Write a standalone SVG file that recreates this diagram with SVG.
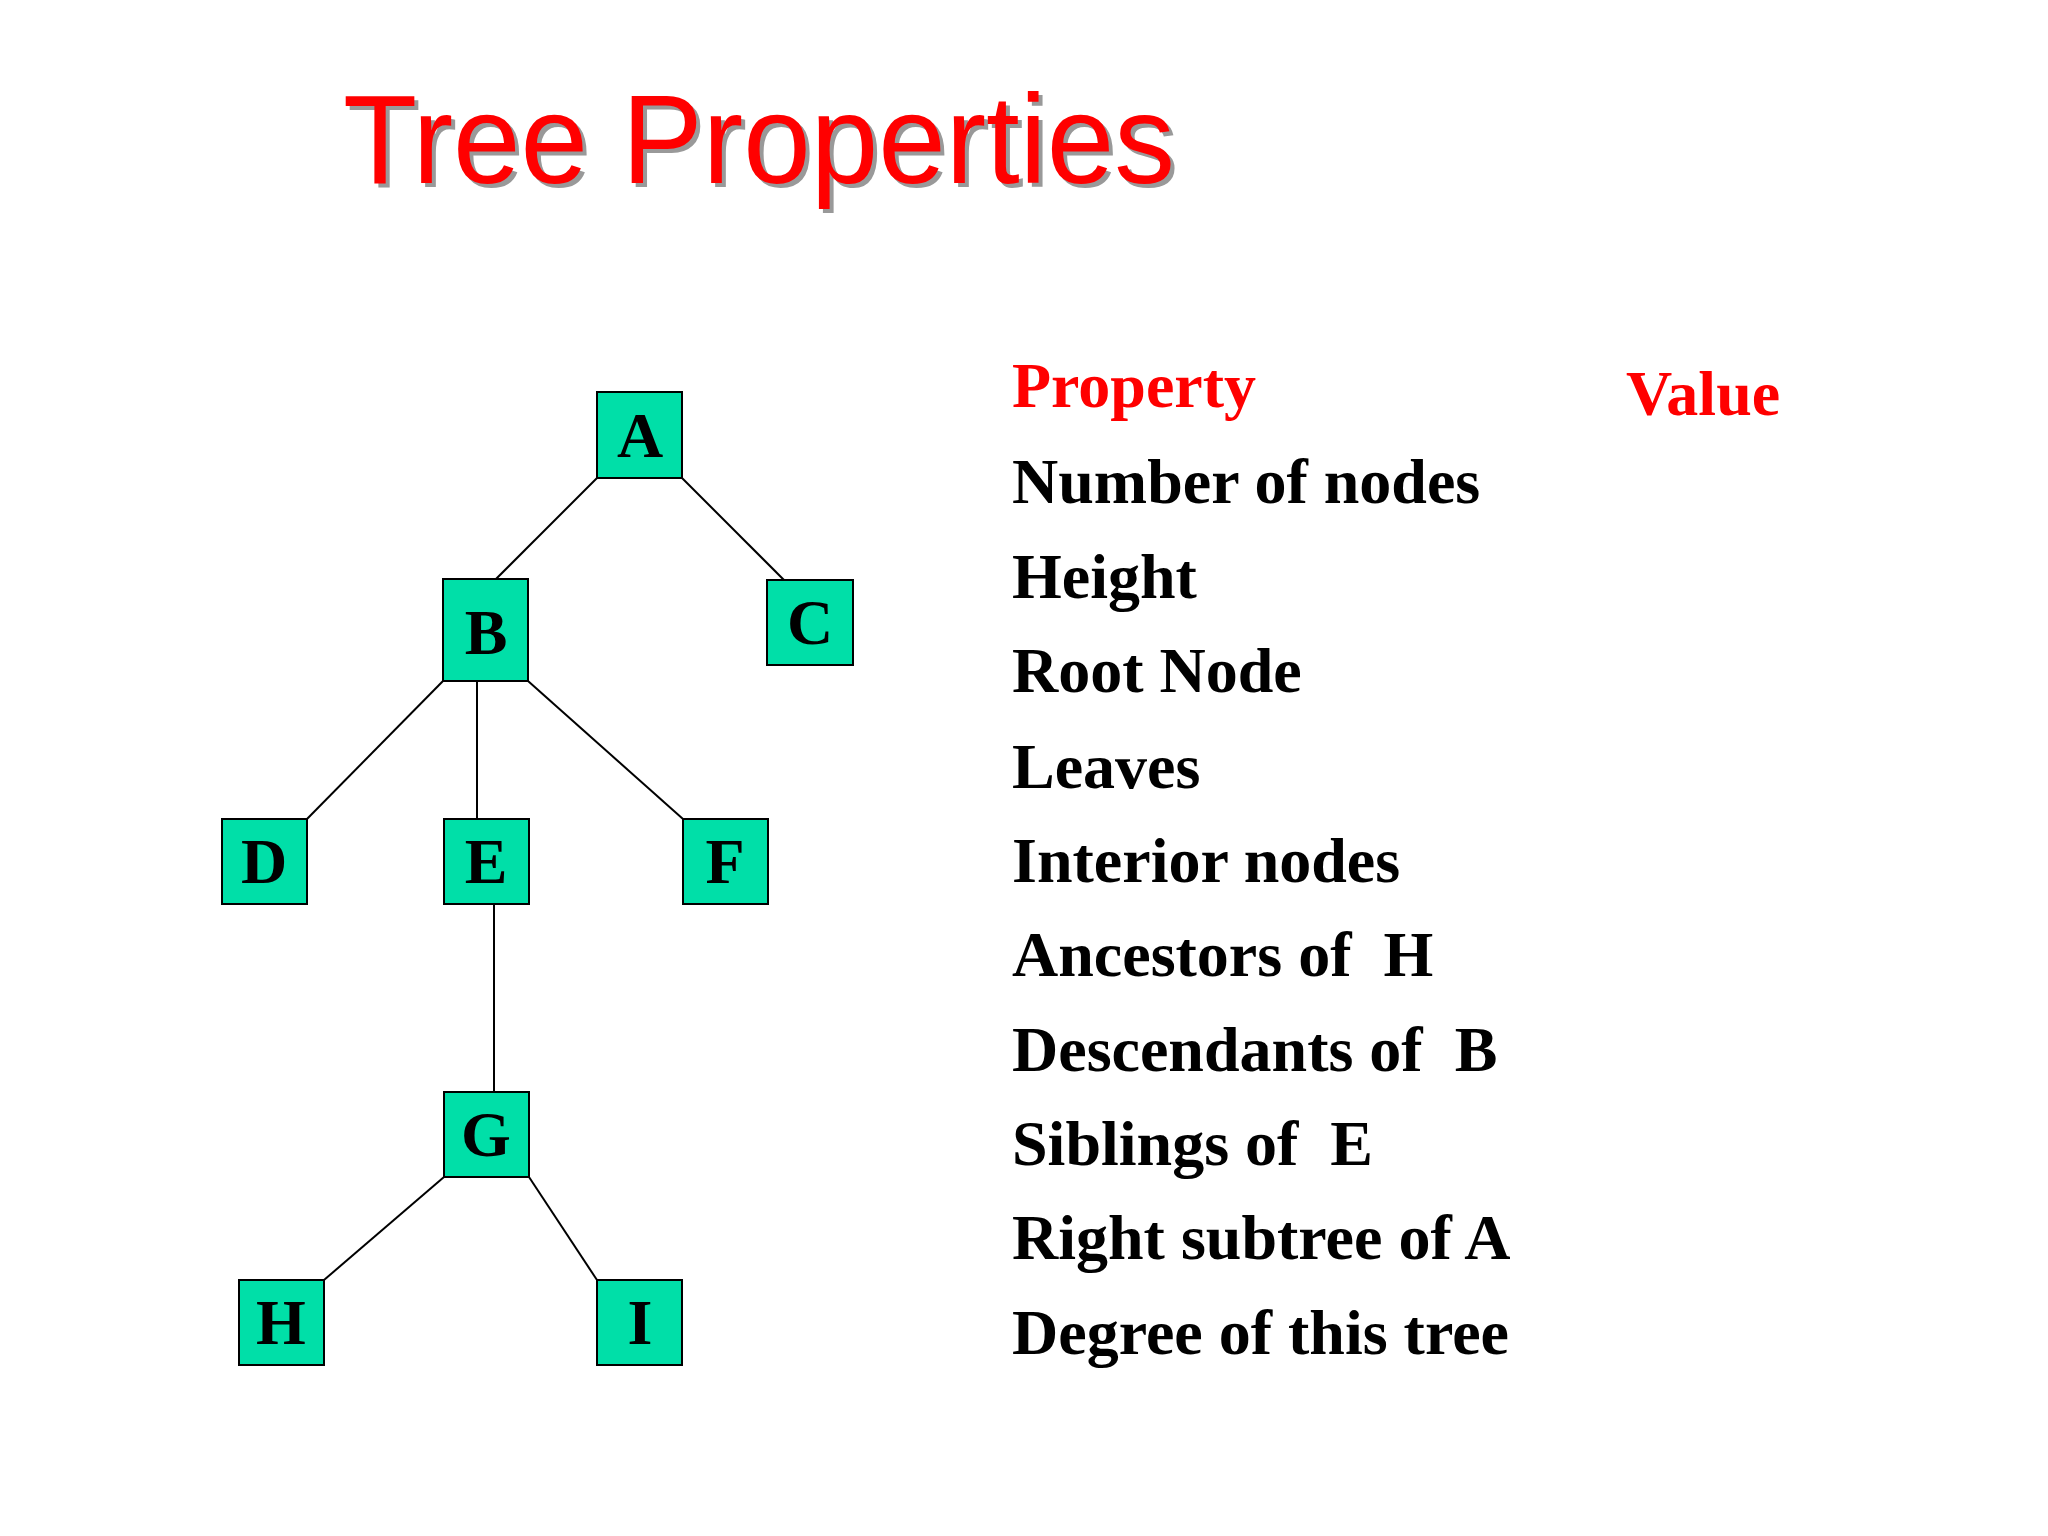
<svg xmlns="http://www.w3.org/2000/svg" width="2048" height="1536" viewBox="0 0 2048 1536">
<style>
.n rect{fill:#00dfa8;stroke:#000;stroke-width:2}
.n text{font-family:"Liberation Serif",serif;font-weight:bold;font-size:64px;text-anchor:middle;fill:#000}
.t{font-family:"Liberation Serif",serif;font-weight:bold;font-size:64px;fill:#000}
.r{fill:#ff0000}
#edges line{stroke:#000;stroke-width:2}
</style>
<rect width="2048" height="1536" fill="#fff"/>
<text x="347" y="187" font-family="Liberation Sans,sans-serif" font-size="126" fill="#999" textLength="832" lengthAdjust="spacingAndGlyphs">Tree Properties</text>
<text x="343" y="183" font-family="Liberation Sans,sans-serif" font-size="126" fill="#ff0000" textLength="832" lengthAdjust="spacingAndGlyphs">Tree Properties</text>
<g id="edges">
<line x1="597" y1="478" x2="496" y2="579"/>
<line x1="682" y1="478" x2="784" y2="580"/>
<line x1="443" y1="681" x2="307" y2="819"/>
<line x1="477" y1="681" x2="477" y2="819"/>
<line x1="528" y1="681" x2="683" y2="819"/>
<line x1="494" y1="904" x2="494" y2="1092"/>
<line x1="444" y1="1177" x2="324" y2="1280"/>
<line x1="529" y1="1177" x2="597" y2="1280"/>
</g>
<g id="A" class="n"><rect x="597" y="392" width="85" height="86"/><text x="640" y="457">A</text></g>
<g id="B" class="n"><rect x="443" y="579" width="85" height="102"/><text x="486" y="654">B</text></g>
<g id="C" class="n"><rect x="767" y="580" width="86" height="85"/><text x="810" y="644">C</text></g>
<g id="D" class="n"><rect x="222" y="819" width="85" height="85"/><text x="264" y="883">D</text></g>
<g id="E" class="n"><rect x="444" y="819" width="85" height="85"/><text x="486" y="883">E</text></g>
<g id="F" class="n"><rect x="683" y="819" width="85" height="85"/><text x="725" y="883">F</text></g>
<g id="G" class="n"><rect x="444" y="1092" width="85" height="85"/><text x="486" y="1156">G</text></g>
<g id="H" class="n"><rect x="239" y="1280" width="85" height="85"/><text x="281" y="1344">H</text></g>
<g id="I" class="n"><rect x="597" y="1280" width="85" height="85"/><text x="640" y="1344">I</text></g>
<text class="t r" x="1012" y="407">Property</text>
<text class="t r" x="1626" y="415">Value</text>
<text class="t" x="1012" y="503">Number of nodes</text>
<text class="t" x="1012" y="598">Height</text>
<text class="t" x="1012" y="692">Root Node</text>
<text class="t" x="1012" y="788">Leaves</text>
<text class="t" x="1012" y="882">Interior nodes</text>
<text class="t" x="1012" y="976" xml:space="preserve">Ancestors of  H</text>
<text class="t" x="1012" y="1071" xml:space="preserve">Descendants of  B</text>
<text class="t" x="1012" y="1165" xml:space="preserve">Siblings of  E</text>
<text class="t" x="1012" y="1259">Right subtree of A</text>
<text class="t" x="1012" y="1354">Degree of this tree</text>
</svg>
